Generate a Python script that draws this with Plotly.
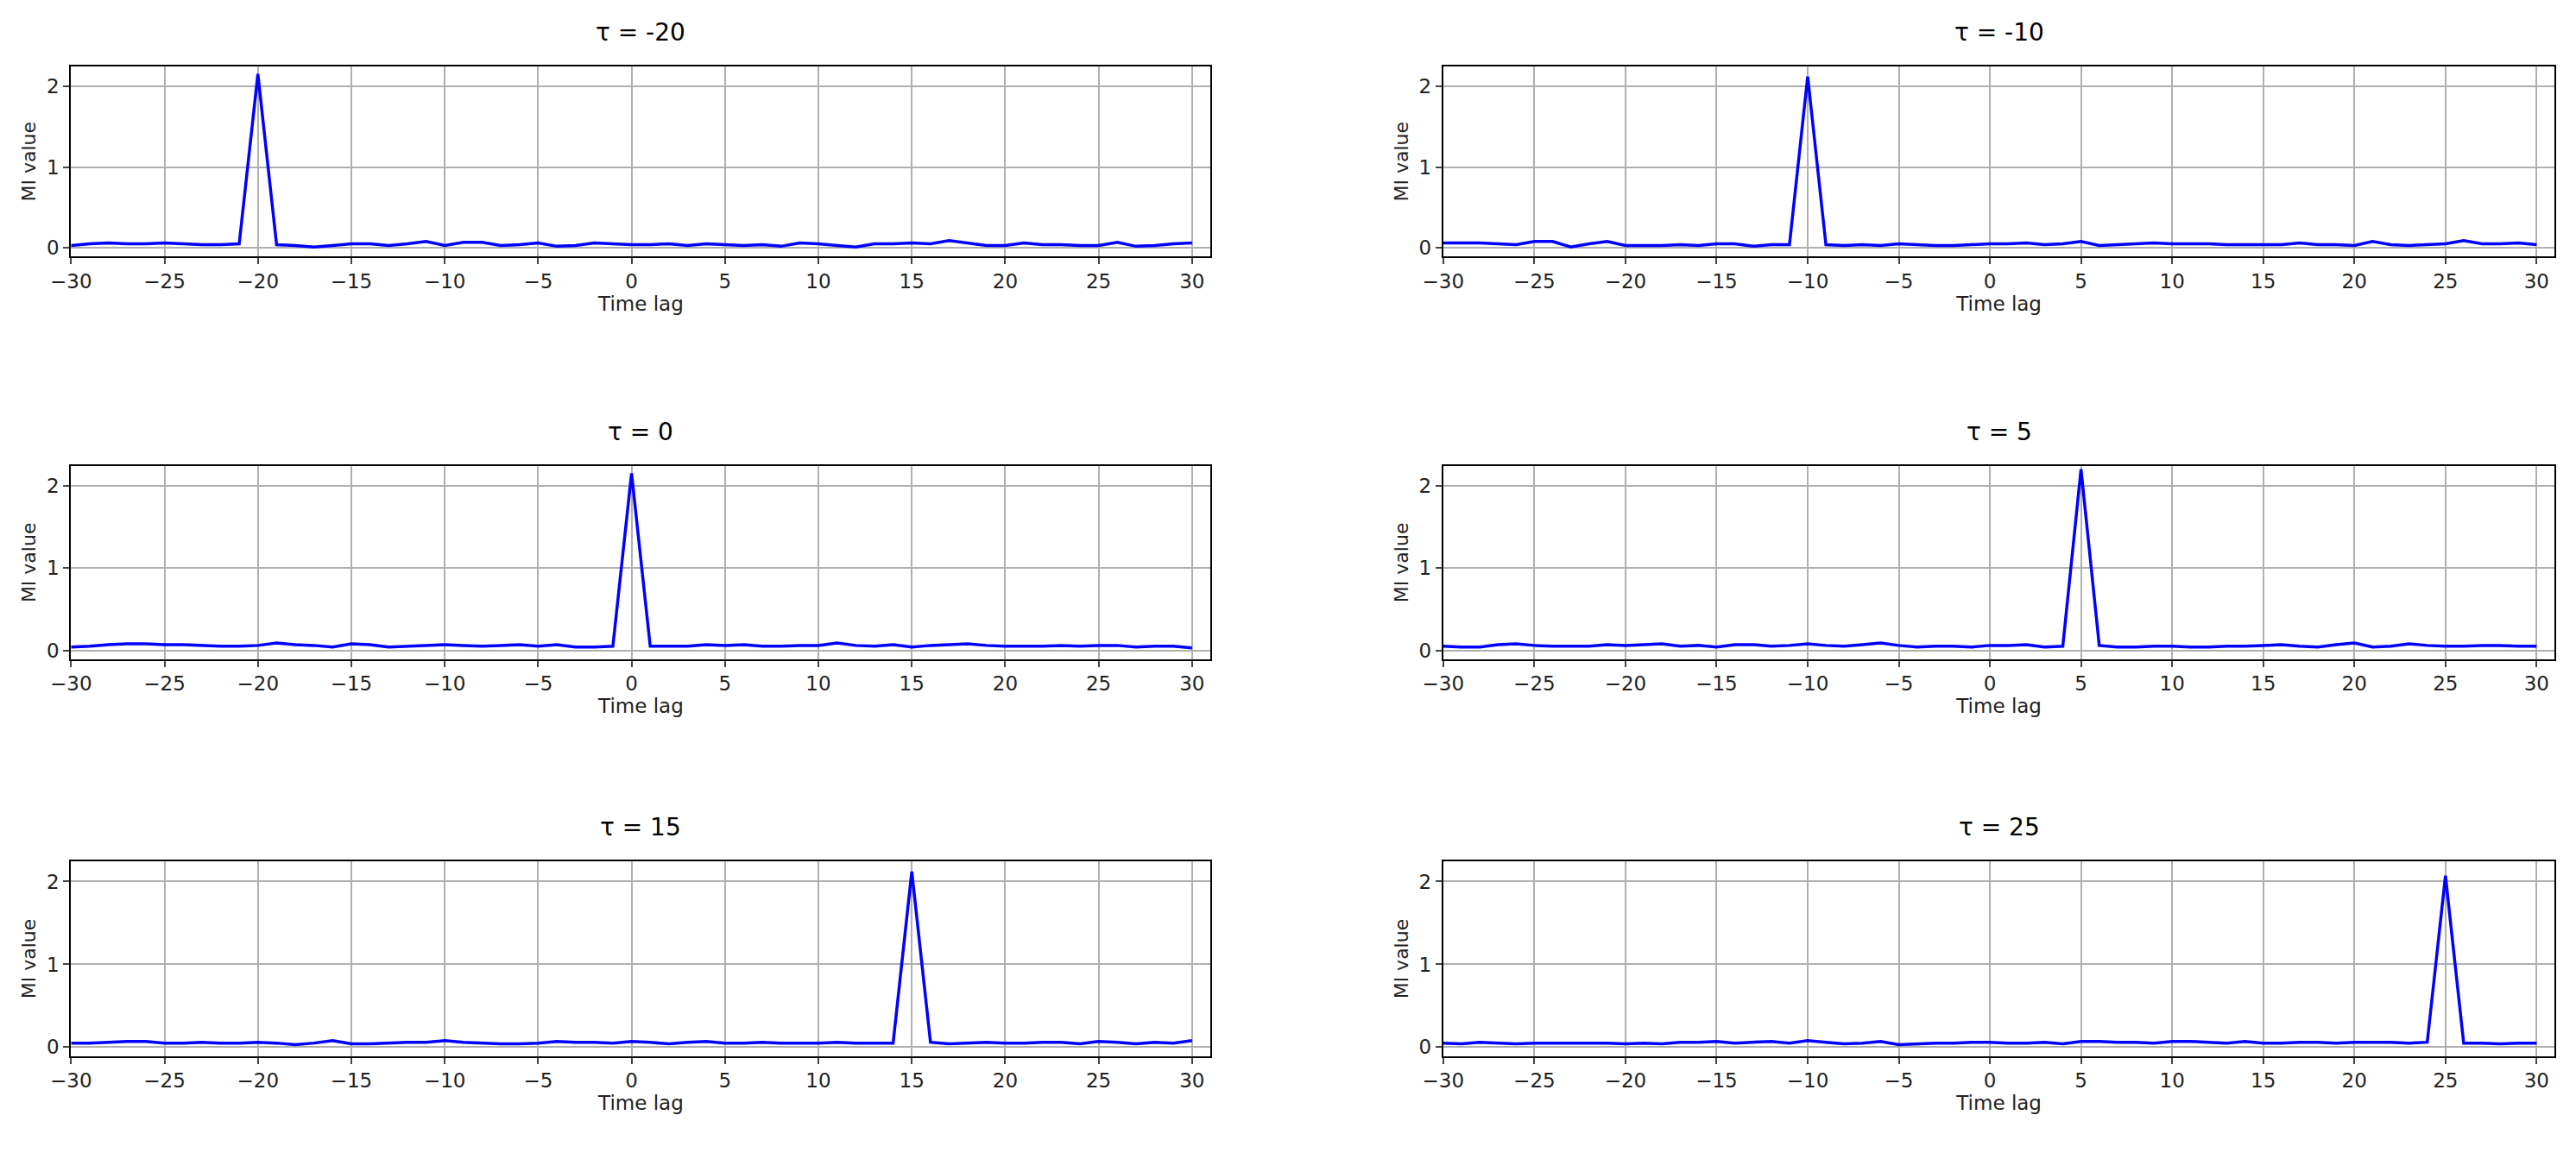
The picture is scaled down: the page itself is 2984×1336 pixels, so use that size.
import plotly.graph_objects as go
from plotly.subplots import make_subplots

lags = list(range(-30, 31))
titles = ["τ = -20", "τ = -10", "τ = 0", "τ = 5", "τ = 15", "τ = 25"]

mi_m20 = [0.03,0.05,0.06,0.05,0.05,0.06,0.05,0.04,0.04,0.05,2.15,0.04,0.03,0.01,0.03,0.05,0.05,0.03,0.05,0.08,0.03,0.07,0.07,0.03,0.04,0.06,0.02,0.03,0.06,0.05,
          0.04,0.04,0.05,0.03,0.05,0.04,0.03,0.04,0.02,0.06,0.05,0.03,0.01,0.05,0.05,0.06,0.05,0.09,0.06,0.03,0.03,0.06,0.04,0.04,0.03,0.03,0.07,0.02,0.03,0.05,0.06]
mi_m10 = [0.06,0.06,0.06,0.05,0.04,0.08,0.08,0.01,0.05,0.08,0.03,0.03,0.03,0.04,0.03,0.05,0.05,0.02,0.04,0.04,2.12,0.04,0.03,0.04,0.03,0.05,0.04,0.03,0.03,0.04,
          0.05,0.05,0.06,0.04,0.05,0.08,0.03,0.04,0.05,0.06,0.05,0.05,0.05,0.04,0.04,0.04,0.04,0.06,0.04,0.04,0.03,0.08,0.04,0.03,0.04,0.05,0.09,0.05,0.05,0.06,0.04]
mi_0 = [0.04,0.05,0.07,0.08,0.08,0.07,0.07,0.06,0.05,0.05,0.06,0.09,0.07,0.06,0.04,0.08,0.07,0.04,0.05,0.06,0.07,0.06,0.05,0.06,0.07,0.05,0.07,0.04,0.04,0.05,
        2.15,0.05,0.05,0.05,0.07,0.06,0.07,0.05,0.05,0.06,0.06,0.09,0.06,0.05,0.07,0.04,0.06,0.07,0.08,0.06,0.05,0.05,0.05,0.06,0.05,0.06,0.06,0.04,0.05,0.05,0.03]
mi_5 = [0.05,0.04,0.04,0.07,0.08,0.06,0.05,0.05,0.05,0.07,0.06,0.07,0.08,0.05,0.06,0.04,0.07,0.07,0.05,0.06,0.08,0.06,0.05,0.07,0.09,0.06,0.04,0.05,0.05,0.04,
        0.06,0.06,0.07,0.04,0.05,2.2,0.06,0.04,0.04,0.05,0.05,0.04,0.04,0.05,0.05,0.06,0.07,0.05,0.04,0.07,0.09,0.04,0.05,0.08,0.06,0.05,0.05,0.06,0.06,0.05,0.05]
mi_15 = [0.05,0.05,0.06,0.07,0.07,0.05,0.05,0.06,0.05,0.05,0.06,0.05,0.03,0.05,0.08,0.04,0.04,0.05,0.06,0.06,0.08,0.06,0.05,0.04,0.04,0.05,0.07,0.06,0.06,0.05,
         0.07,0.06,0.04,0.06,0.07,0.05,0.05,0.06,0.05,0.05,0.05,0.06,0.05,0.05,0.05,2.12,0.06,0.04,0.05,0.06,0.05,0.05,0.06,0.06,0.04,0.07,0.06,0.04,0.06,0.05,0.08]
mi_25 = [0.05,0.04,0.06,0.05,0.04,0.05,0.05,0.05,0.05,0.05,0.04,0.05,0.04,0.06,0.06,0.07,0.05,0.06,0.07,0.05,0.08,0.06,0.04,0.05,0.07,0.03,0.04,0.05,0.05,0.06,
         0.06,0.05,0.05,0.06,0.04,0.07,0.07,0.06,0.06,0.05,0.07,0.07,0.06,0.05,0.07,0.05,0.05,0.06,0.06,0.05,0.06,0.06,0.06,0.05,0.06,2.07,0.05,0.05,0.04,0.05,0.05]
series = [mi_m20, mi_m10, mi_0, mi_5, mi_15, mi_25]

xticks = list(range(-30, 31, 5))
yticks = [0, 1, 2]

fig = make_subplots(rows=3, cols=2)
xd = [[0.017, 0.463], [0.554, 0.989]]
yd = [[0.783, 0.948], [0.433, 0.601], [0.088, 0.257]]
font = "DejaVu Sans"
ann = []
for i, ys in enumerate(series):
    r, c = i // 2, i % 2
    fig.add_trace(go.Scatter(x=lags, y=ys, mode="lines", line=dict(color="#0000ff", width=3.5),
                             showlegend=False), row=r+1, col=c+1)
    n = "" if i == 0 else str(i+1)
    fig.update_layout(**{
        "xaxis"+n: dict(domain=xd[c], range=[-30, 31], tickvals=xticks, showgrid=True, gridcolor="#b0b0b0",
                        gridwidth=1.5, zeroline=False, showline=True, linecolor="black", linewidth=2, mirror=True,
                        ticks="outside", ticklen=7, tickwidth=1.5, tickfont=dict(size=23, color="#222"),
                        title=dict(text="Time lag", font=dict(size=23, color="#222"), standoff=4),
                        anchor="y"+n),
        "yaxis"+n: dict(domain=yd[r], range=[-0.107, 2.24], tickvals=yticks, showgrid=True, gridcolor="#b0b0b0",
                        gridwidth=1.5, zeroline=False, showline=True, linecolor="black", linewidth=2, mirror=True,
                        ticks="outside", ticklen=7, tickwidth=1.5, tickfont=dict(size=23, color="#222"),
                        title=dict(text="MI value", font=dict(size=22, color="#222"), standoff=6),
                        anchor="x"+n),
    })
    ann.append(dict(text=titles[i], x=sum(xd[c])/2, y=yd[r][1] + 0.016, xref="paper", yref="paper",
                    xanchor="center", yanchor="bottom", showarrow=False, font=dict(size=28, color="black")))
fig.update_layout(width=2984, height=1336, margin=dict(l=0, r=0, t=0, b=0), annotations=ann,
                  plot_bgcolor="white", paper_bgcolor="white", font=dict(family=font))
fig.write_html("out.html")
